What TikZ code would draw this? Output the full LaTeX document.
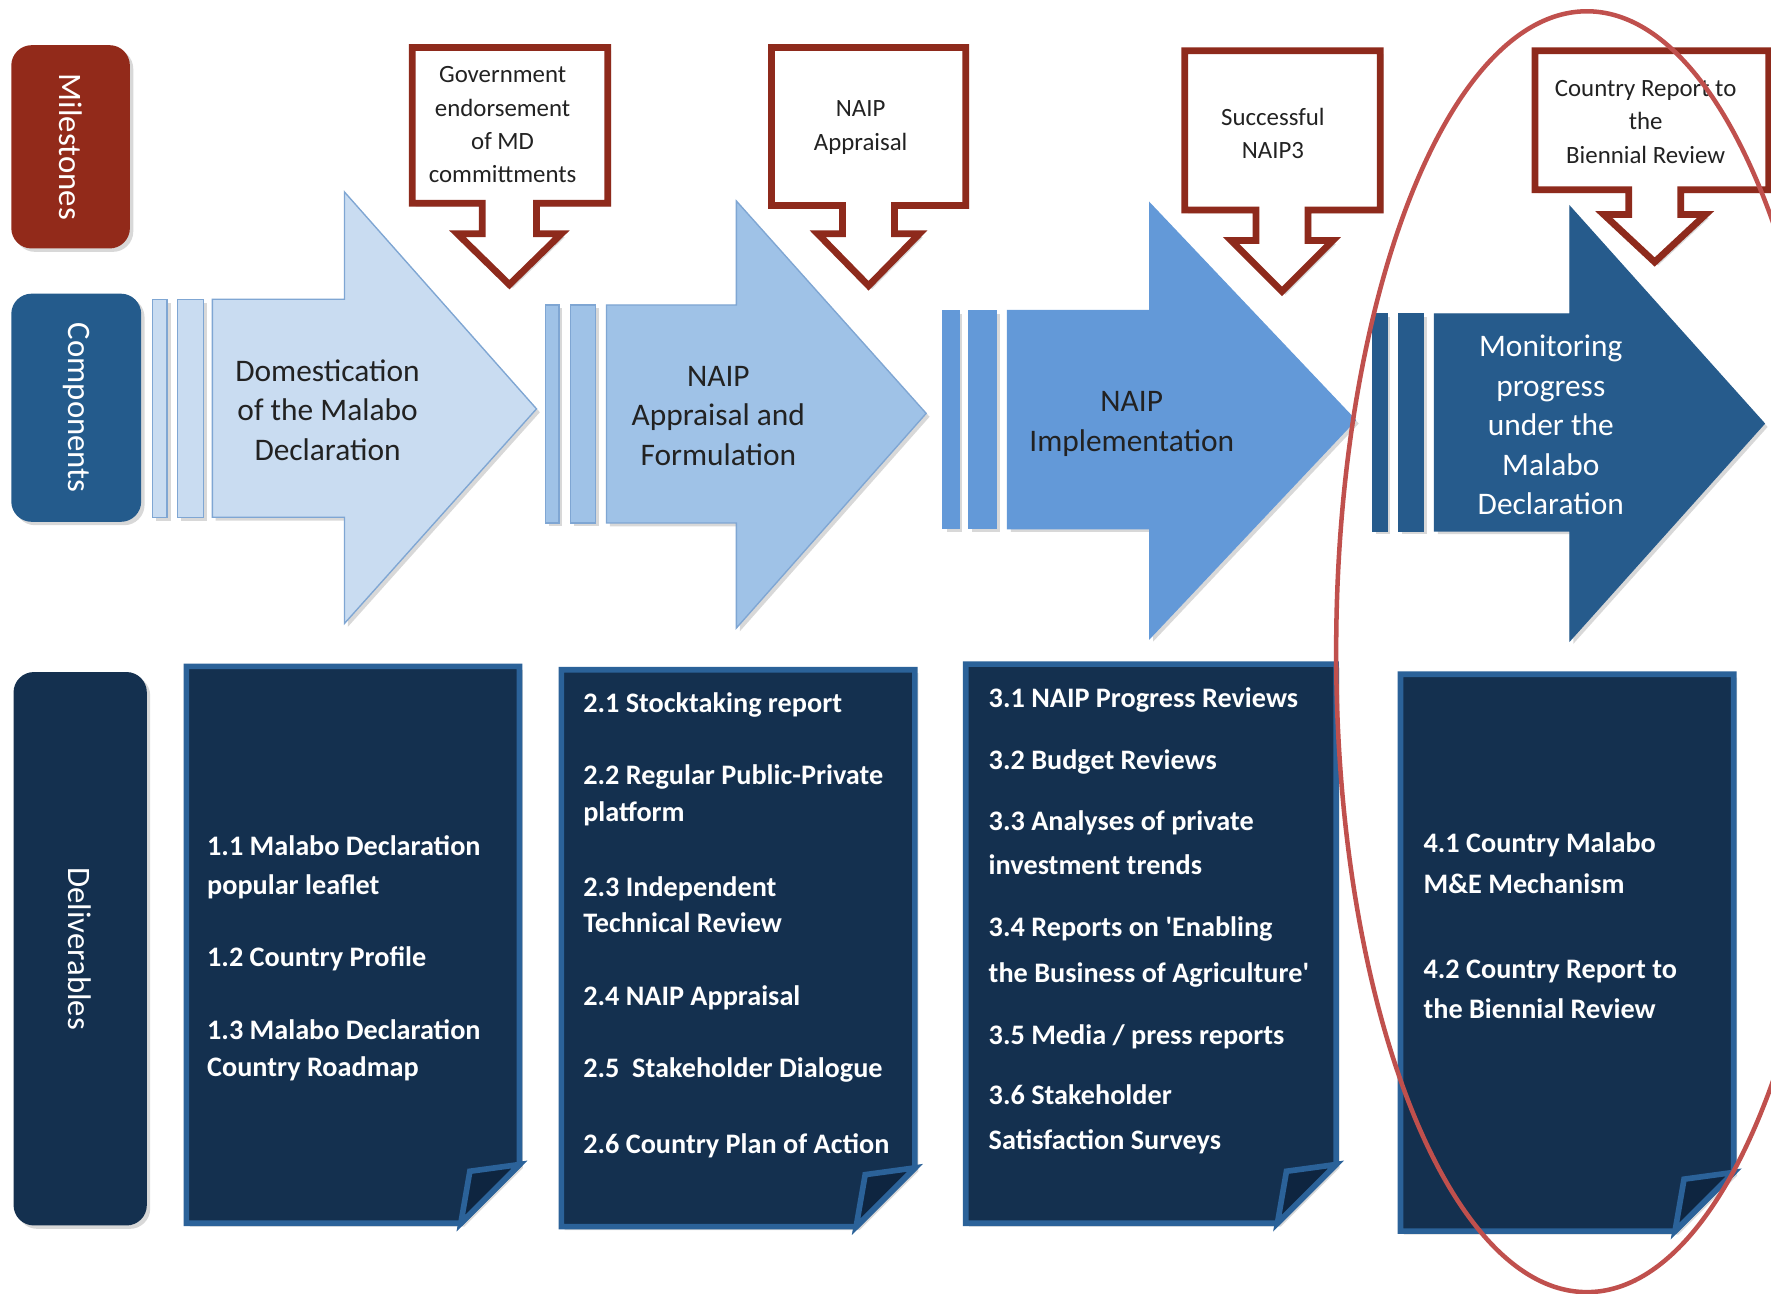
\documentclass[tikz,border=0pt]{standalone}
\usepackage{fontspec}
\setmainfont{Carlito}
\newfontfamily\plainq{Carlito}[Ligatures=TeXOff]
\usetikzlibrary{shadows}
\definecolor{msred}{HTML}{922A1A}
\definecolor{compblue}{HTML}{245B8C}
\definecolor{navy}{HTML}{14304F}
\definecolor{aonefill}{HTML}{C9DCF1}
\definecolor{atwofill}{HTML}{9FC2E7}
\definecolor{athreefill}{HTML}{6399D8}
\definecolor{afourfill}{HTML}{265B8C}
\definecolor{arrline}{HTML}{7FA6D3}
\definecolor{pageline}{HTML}{2B6299}
\definecolor{foldfill}{HTML}{0E2540}
\definecolor{callred}{HTML}{8E2A1C}
\definecolor{ellred}{HTML}{C0504D}
\definecolor{darktext}{HTML}{222222}
\newcommand\delpage[4]{%
  \draw[pagebox] (#1,#2) -- (#3,#2) -- (#3,{#4-52}) -- ({#3-52},#4) -- (#1,#4) -- cycle;
  \draw[foldbox] ({#3-52},#4) -- ({#3-44},{#4-46}) -- (#3,{#4-52}) -- cycle;}
\begin{document}
\begin{tikzpicture}[x=0.5pt,y=-0.5pt,
  shd/.style={drop shadow={opacity=0.3,shadow xshift=1.5pt,shadow yshift=-1.5pt}},
  lbl/.style={shd,rounded corners=9pt,text=white,inner sep=0pt,
    font=\fontsize{14.5}{17}\selectfont,rotate=-90},
  arr/.style={shd,line width=0.6pt,line join=miter},
  callout/.style={shd,draw=callred,fill=white,line width=3pt,line join=miter},
  calltext/.style={text=darktext,align=center,inner sep=0pt,
    font=\fontsize{11}{14.8}\selectfont},
  comptext/.style={align=center,inner sep=0pt,
    font=\fontsize{13.9}{17.5}\selectfont},
  pagebox/.style={shd,draw=pageline,fill=navy,line width=2.5pt,line join=miter},
  foldbox/.style={draw=pageline,fill=foldfill,line width=2.5pt,line join=miter},
  dtext/.style={anchor=base west,text=white,inner sep=0pt,
    font=\fontsize{12.5}{15}\selectfont\bfseries},
]
\useasboundingbox (0,0) rectangle (1568,1145);
\fill[white] (0,0) rectangle (1568,1145);

% row labels
\node[lbl,fill=msred,minimum width=90pt,minimum height=52.5pt] (ms) at (62.5,130) {Milestones};
\node[lbl,fill=compblue,minimum width=101pt,minimum height=57.5pt] (cp) at (67.5,361) {Components};
\node[lbl,fill=navy,minimum width=245pt,minimum height=59pt] (dl) at (71,840) {Deliverables};

% component arrows
\draw[arr,fill=aonefill,draw=arrline] (135,265) rectangle (148,458);
\draw[arr,fill=aonefill,draw=arrline] (157,265) rectangle (180,458);
\draw[arr,fill=aonefill,draw=arrline] (188,265) -- (305,265) -- (305,170) -- (475,362) -- (305,552) -- (305,458) -- (188,458) -- cycle;

\draw[arr,fill=atwofill,draw=arrline] (483,270) rectangle (495,463);
\draw[arr,fill=atwofill,draw=arrline] (505,270) rectangle (527,463);
\draw[arr,fill=atwofill,draw=arrline] (537,270) -- (652,270) -- (652,178) -- (820,366) -- (652,556) -- (652,463) -- (537,463) -- cycle;

\draw[arr,fill=athreefill,draw=athreefill] (835,275) rectangle (849,468);
\draw[arr,fill=athreefill,draw=athreefill] (858,275) rectangle (882,468);
\draw[arr,fill=athreefill,draw=athreefill] (892,275) -- (1018,275) -- (1018,180) -- (1200,372) -- (1018,565) -- (1018,468) -- (892,468) -- cycle;

\draw[arr,fill=afourfill,draw=afourfill] (1215,278) rectangle (1228,470);
\draw[arr,fill=afourfill,draw=afourfill] (1238,278) rectangle (1260,470);
\draw[arr,fill=afourfill,draw=afourfill] (1270,278) -- (1390,278) -- (1390,183) -- (1562,375) -- (1390,567) -- (1390,470) -- (1270,470) -- cycle;

\node[comptext,text=darktext] (c1) at (290,363) {Domestication\\of the Malabo\\Declaration};
\node[comptext,text=darktext] (c2) at (636,368) {NAIP\\Appraisal and\\Formulation};
\node[comptext,text=darktext] (c3) at (1002,375.5) {NAIP\\Implementation};
\node[comptext,text=white] (c4) at (1373,376.5) {Monitoring\\progress\\under the\\Malabo\\Declaration};

% milestone callouts
\draw[callout] (365,42) -- (538,42) -- (538,180) -- (475,180) -- (475,207) -- (497,207) -- (451,252) -- (405,207) -- (427,207) -- (427,180) -- (365,180) -- cycle;
\draw[callout] (683,42) -- (855,42) -- (855,182) -- (792,182) -- (792,207) -- (814,207) -- (769,253) -- (724,207) -- (746,207) -- (746,182) -- (683,182) -- cycle;
\draw[callout] (1049,45) -- (1222,45) -- (1222,186) -- (1158,186) -- (1158,213) -- (1180,213) -- (1135,258) -- (1090,213) -- (1112,213) -- (1112,186) -- (1049,186) -- cycle;
\draw[callout] (1359,45) -- (1566,45) -- (1566,168) -- (1488,168) -- (1488,190) -- (1510,190) -- (1465,232) -- (1420,190) -- (1442,190) -- (1442,168) -- (1359,168) -- cycle;

\node[calltext] (m1) at (445,110.5) {Government\\endorsement\\of MD\\committments};
\node[calltext] (m2) at (762,113) {NAIP\\Appraisal};
\node[calltext] (m3) at (1127,118) {Successful\\NAIP3};
\node[calltext] (m4) at (1457,108) {Country Report to\\the\\Biennial Review};

% deliverable pages
\delpage{165}{590}{460}{1083}
\delpage{497}{593}{810}{1086}
\delpage{855}{588}{1183}{1083}
\delpage{1240}{597}{1535}{1090}

\node[dtext] (d11a) at (183,757) {1.1 Malabo Declaration};
\node[dtext] (d11b) at (183,792) {popular leaflet};
\node[dtext] (d12) at (183,856) {1.2 Country Profile};
\node[dtext] (d13a) at (183,920) {1.3 Malabo Declaration};
\node[dtext] (d13b) at (183,953) {Country Roadmap};

\node[dtext] (d21) at (516,631) {2.1 Stocktaking report};
\node[dtext] (d22a) at (516,695) {2.2 Regular Public-Private};
\node[dtext] (d22b) at (516,727) {platform};
\node[dtext] (d23a) at (516,794) {2.3 Independent};
\node[dtext] (d23b) at (516,826) {Technical Review};
\node[dtext] (d24) at (516,890) {2.4 NAIP Appraisal};
\node[dtext] (d25) at (516,954) {2.5\ \ Stakeholder Dialogue};
\node[dtext] (d26) at (516,1021) {2.6 Country Plan of Action};

\node[dtext] (d31) at (875,626) {3.1 NAIP Progress Reviews};
\node[dtext] (d32) at (875,681) {3.2 Budget Reviews};
\node[dtext] (d33a) at (875,735) {3.3 Analyses of private};
\node[dtext] (d33b) at (875,774) {investment trends};
\node[dtext] (d34a) at (875,829) {\plainq 3.4 Reports on 'Enabling};
\node[dtext] (d34b) at (875,870) {\plainq the Business of Agriculture'};
\node[dtext] (d35) at (875,925) {3.5 Media / press reports};
\node[dtext] (d36a) at (875,978) {3.6 Stakeholder};
\node[dtext] (d36b) at (875,1018) {Satisfaction Surveys};

\node[dtext] (d41a) at (1260,755) {4.1 Country Malabo};
\node[dtext] (d41b) at (1260,791) {M\&E Mechanism};
\node[dtext] (d42a) at (1260,866) {4.2 Country Report to};
\node[dtext] (d42b) at (1260,902) {the Biennial Review};

% highlight ellipse
\draw[ellred,line width=2pt] (1405,577) ellipse [x radius=111pt,y radius=283.5pt];
\end{tikzpicture}
\end{document}
